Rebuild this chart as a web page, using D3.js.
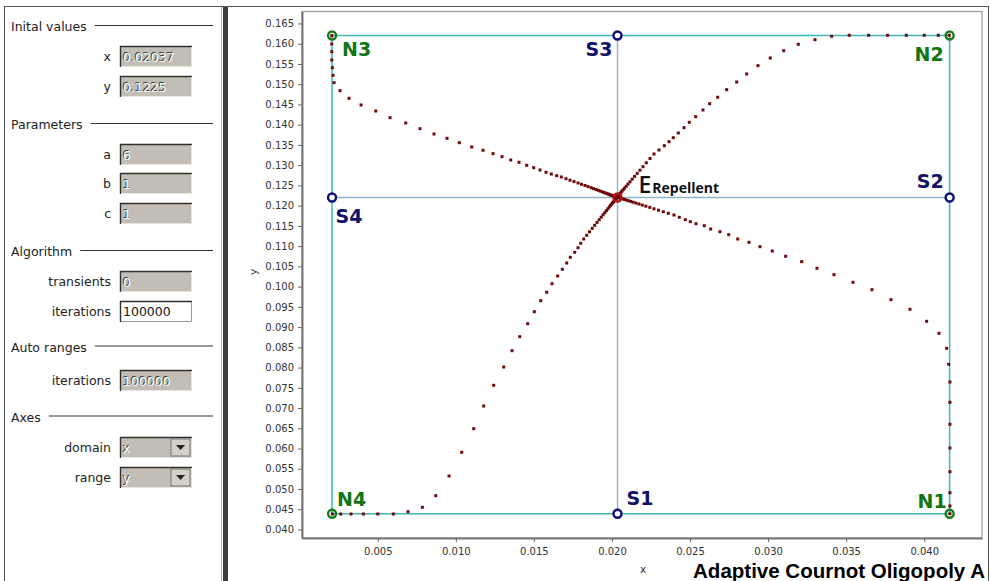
<!DOCTYPE html>
<html>
<head>
<meta charset="utf-8">
<script src="https://cdn.jsdelivr.net/npm/d3@7"></script>
<style>
  body { margin: 0; background: #fff; }
  svg { display: block; font-family: "DejaVu Sans", Verdana, sans-serif; }
</style>
</head>
<body>
<svg id="chart" width="990" height="581"></svg>
<script>
// fixed points of the map (nodes N, saddles S, repelling equilibrium E)
const fixedNames = ["N1", "N2", "N3", "N4", "S1", "S2", "S3", "S4", "E"];
const fixedX = [0.041628, 0.041628, 0.002075, 0.002075, 0.020356, 0.041628, 0.020356, 0.002075, 0.020356];
const fixedY = [0.04390, 0.16204, 0.16204, 0.04390, 0.04390, 0.12202, 0.16204, 0.12202, 0.12202];

// orbits leaving E towards each node
const orbitN1X = [0.041647, 0.041647, 0.041647, 0.041647, 0.041647, 0.041647, 0.041647, 0.041647, 0.041564, 0.041436, 0.040943, 0.040155, 0.039086, 0.037869, 0.036652, 0.035436, 0.034219, 0.033131, 0.032151, 0.031126, 0.030268, 0.029481, 0.028776, 0.028053, 0.027477, 0.026919, 0.026324, 0.025914, 0.025383, 0.025018, 0.024698, 0.024313, 0.023974, 0.023609, 0.023289, 0.022981, 0.022693, 0.022424, 0.022174, 0.021944, 0.021733, 0.021541, 0.021361, 0.021201, 0.021054, 0.020919, 0.020804, 0.020702, 0.020612, 0.020535, 0.020471, 0.020420];
const orbitN1Y = [0.04390, 0.04581, 0.04909, 0.05428, 0.06013, 0.06599, 0.07142, 0.07644, 0.08081, 0.08476, 0.08847, 0.09143, 0.09440, 0.09677, 0.09924, 0.10107, 0.10295, 0.10453, 0.10616, 0.10749, 0.10880, 0.10986, 0.11095, 0.11176, 0.11283, 0.11357, 0.11423, 0.11505, 0.11554, 0.11604, 0.11653, 0.11712, 0.11769, 0.11811, 0.11851, 0.11888, 0.11922, 0.11957, 0.11987, 0.12014, 0.12041, 0.12063, 0.12085, 0.12105, 0.12122, 0.12137, 0.12152, 0.12165, 0.12177, 0.12184, 0.12192, 0.12199];

const orbitN2X = [0.041602, 0.040898, 0.040001, 0.038849, 0.037658, 0.036441, 0.035199, 0.034072, 0.033003, 0.031933, 0.030998, 0.030140, 0.029353, 0.028629, 0.027989, 0.027348, 0.026772, 0.026260, 0.025831, 0.025364, 0.024954, 0.024614, 0.024249, 0.023929, 0.023654, 0.023353, 0.023013, 0.022693, 0.022437, 0.022200, 0.021989, 0.021797, 0.021617, 0.021451, 0.021297, 0.021156, 0.021028, 0.020913, 0.020811, 0.020721, 0.020644, 0.020574, 0.020516, 0.020465, 0.020427, 0.020394];
const orbitN2Y = [0.16209, 0.16209, 0.16209, 0.16209, 0.16209, 0.16209, 0.16209, 0.16184, 0.16100, 0.15986, 0.15828, 0.15648, 0.15458, 0.15253, 0.15055, 0.14865, 0.14677, 0.14519, 0.14363, 0.14198, 0.14059, 0.13926, 0.13795, 0.13679, 0.13580, 0.13481, 0.13375, 0.13276, 0.13165, 0.13059, 0.12962, 0.12876, 0.12797, 0.12723, 0.12654, 0.12589, 0.12533, 0.12480, 0.12434, 0.12394, 0.12360, 0.12328, 0.12300, 0.12278, 0.12261, 0.12246];

const orbitN3X = [0.002055, 0.002055, 0.002055, 0.002055, 0.002094, 0.002139, 0.002203, 0.002587, 0.003163, 0.003932, 0.004873, 0.005789, 0.006794, 0.007710, 0.008606, 0.009438, 0.010226, 0.011020, 0.011744, 0.012384, 0.012960, 0.013517, 0.014049, 0.014542, 0.014990, 0.015393, 0.015778, 0.016117, 0.016463, 0.016757, 0.017058, 0.017314, 0.017571, 0.017827, 0.018051, 0.018275, 0.018467, 0.018659, 0.018819, 0.018979, 0.019120, 0.019255, 0.019376, 0.019492, 0.019594, 0.019684, 0.019773, 0.019850, 0.019921, 0.019985, 0.020042, 0.020094, 0.020138, 0.020177, 0.020215, 0.020247, 0.020279];
const orbitN3Y = [0.16199, 0.15994, 0.15803, 0.15598, 0.15408, 0.15220, 0.15038, 0.14840, 0.14652, 0.14487, 0.14338, 0.14173, 0.14042, 0.13901, 0.13770, 0.13664, 0.13555, 0.13449, 0.13368, 0.13284, 0.13210, 0.13128, 0.13071, 0.12997, 0.12938, 0.12881, 0.12824, 0.12782, 0.12740, 0.12708, 0.12666, 0.12629, 0.12594, 0.12560, 0.12528, 0.12498, 0.12471, 0.12444, 0.12421, 0.12399, 0.12379, 0.12360, 0.12342, 0.12325, 0.12310, 0.12298, 0.12286, 0.12273, 0.12263, 0.12253, 0.12246, 0.12239, 0.12231, 0.12226, 0.12221, 0.12216, 0.12212];

const orbitN4X = [0.002094, 0.002632, 0.003291, 0.004079, 0.005001, 0.006000, 0.006941, 0.007857, 0.008715, 0.009567, 0.010380, 0.011148, 0.011788, 0.012429, 0.013069, 0.013601, 0.014094, 0.014606, 0.015029, 0.015438, 0.015823, 0.016162, 0.016527, 0.016822, 0.017103, 0.017334, 0.017615, 0.017827, 0.018000, 0.018192, 0.018384, 0.018563, 0.018736, 0.018896, 0.019043, 0.019184, 0.019312, 0.019434, 0.019543, 0.019645, 0.019741, 0.019825, 0.019902, 0.019972, 0.020036, 0.020094, 0.020145, 0.020190, 0.020228, 0.020260];
const orbitN4Y = [0.04383, 0.04383, 0.04383, 0.04383, 0.04383, 0.04383, 0.04440, 0.04548, 0.04835, 0.05322, 0.05907, 0.06490, 0.07051, 0.07562, 0.08014, 0.08417, 0.08763, 0.09084, 0.09380, 0.09652, 0.09860, 0.10072, 0.10262, 0.10428, 0.10584, 0.10724, 0.10848, 0.10961, 0.11070, 0.11176, 0.11268, 0.11354, 0.11438, 0.11515, 0.11586, 0.11653, 0.11715, 0.11774, 0.11826, 0.11876, 0.11922, 0.11964, 0.12002, 0.12036, 0.12066, 0.12093, 0.12118, 0.12140, 0.12157, 0.12174];

// axes
const xDomain = [0.00015, 0.0437];
const yDomain = [0.0379, 0.16796];
const xTicks = [0.005, 0.010, 0.015, 0.020, 0.025, 0.030, 0.035, 0.040];
const yTicks = [0.040, 0.045, 0.050, 0.055, 0.060, 0.065, 0.070, 0.075, 0.080, 0.085, 0.090, 0.095, 0.100,
  0.105, 0.110, 0.115, 0.120, 0.125, 0.130, 0.135, 0.140, 0.145, 0.150, 0.155, 0.160, 0.165];

// control panel texts
const sectionTitles = ["Inital values", "Parameters", "Algorithm", "Auto ranges", "Axes"];
const fieldLabels = ["x", "y", "a", "b", "c", "transients", "iterations", "iterations", "domain", "range"];
const fieldValues = ["0.02037", "0.1225", "6", "1", "1", "0", "100000", "100000", "x", "y"];
const fieldKinds = ["off", "off", "off", "off", "off", "off", "edit", "off", "combo", "combo"];

const title = "Adaptive Cournot Oligopoly A";

// ---------------------------------------------------------------
const svg = d3.select("#chart");
const plot = { left: 302, right: 982, top: 11.5, bottom: 538 };

const xScale = d3.scaleLinear().domain(xDomain).range([plot.left, plot.right]);
const yScale = d3.scaleLinear().domain(yDomain).range([plot.bottom, plot.top]);

// window frame + splitter
svg.append("rect").attr("x", 4.5).attr("y", 6.5).attr("width", 984).attr("height", 590)
  .attr("fill", "none").attr("stroke", "#555");
svg.append("line").attr("x1", 221.5).attr("x2", 221.5).attr("y1", 7).attr("y2", 581).attr("stroke", "#aaa");
svg.append("rect").attr("x", 223).attr("y", 7).attr("width", 5).attr("height", 574).attr("fill", "#3c3c3c");

// ---- control panel ----
const panel = svg.append("g");
const sectionBase = [31, 129, 256, 351.5, 421.5];
sectionTitles.forEach(function (t, i) {
  const txt = panel.append("text").attr("x", 11).attr("y", sectionBase[i])
    .attr("font-size", 12.5).attr("fill", "#222").text(t);
  const w = txt.node().getComputedTextLength();
  panel.append("line").attr("x1", 11 + w + 8).attr("x2", 213)
    .attr("y1", sectionBase[i] - 5.5).attr("y2", sectionBase[i] - 5.5)
    .attr("stroke", "#333").attr("stroke-width", 1);
});

const fieldTop = [46, 76, 144, 173, 203, 271, 301, 370, 437, 467];
fieldLabels.forEach(function (lab, i) {
  const y0 = fieldTop[i];
  panel.append("text").attr("x", 111).attr("y", y0 + 15).attr("text-anchor", "end")
    .attr("font-size", 12.5).attr("fill", "#222").text(lab);
  const kind = fieldKinds[i];
  panel.append("rect").attr("x", 120).attr("y", y0).attr("width", 72).attr("height", 21)
    .attr("fill", kind === "edit" ? "#fff" : "#c2beb6");
  // sunken border
  panel.append("path").attr("d", `M120.5,${y0 + 21} V${y0 + 0.5} H192`)
    .attr("fill", "none").attr("stroke", "#303030").attr("stroke-width", 1.4);
  panel.append("path").attr("d", `M121,${y0 + 20.5} H191.5 V${y0 + 1}`)
    .attr("fill", "none").attr("stroke", kind === "edit" ? "#999" : "#e6e4df");
  if (kind === "edit") {
    panel.append("text").attr("x", 123).attr("y", y0 + 15).attr("font-size", 12.5)
      .attr("fill", "#111").text(fieldValues[i]);
  } else {
    // embossed (disabled) look
    panel.append("text").attr("x", 122).attr("y", y0 + 15).attr("font-size", 12.5)
      .attr("fill", "#3a3a3a").text(fieldValues[i]);
    panel.append("text").attr("x", 123).attr("y", y0 + 15.5).attr("font-size", 12.5)
      .attr("fill", "#fdfdfb").text(fieldValues[i]);
  }
  if (kind === "combo") {
    panel.append("rect").attr("x", 171).attr("y", y0 + 2).attr("width", 19).attr("height", 17)
      .attr("fill", "#d4d0c8").attr("stroke", "#777").attr("stroke-width", 1);
    panel.append("path").attr("d", `M176,${y0 + 8} h9 l-4.5,5 z`).attr("fill", "#222");
  }
});

// ---- plot ----
svg.append("rect").attr("x", plot.left).attr("y", plot.top)
  .attr("width", plot.right - plot.left).attr("height", plot.bottom - plot.top)
  .attr("fill", "#fff").attr("stroke", "#9a9a9a").attr("stroke-width", 1.2);

const pt = {};
fixedNames.forEach(function (n, i) { pt[n] = [fixedX[i], fixedY[i]]; });

const boxEdges = [["N3", "N2"], ["N2", "N1"], ["N1", "N4"], ["N4", "N3"]];
const crossEdges = [["S4", "S2"], ["S3", "S1"]];

svg.append("g").selectAll("line").data(crossEdges).enter().append("line")
  .attr("x1", d => xScale(pt[d[0]][0])).attr("y1", d => yScale(pt[d[0]][1]))
  .attr("x2", d => xScale(pt[d[1]][0])).attr("y2", d => yScale(pt[d[1]][1]))
  .attr("stroke", "#93b3c9").attr("stroke-width", 1.4);
svg.append("g").selectAll("line").data(boxEdges).enter().append("line")
  .attr("x1", d => xScale(pt[d[0]][0])).attr("y1", d => yScale(pt[d[0]][1]))
  .attr("x2", d => xScale(pt[d[1]][0])).attr("y2", d => yScale(pt[d[1]][1]))
  .attr("stroke", "#3db6b6").attr("stroke-width", 1.5);

const orbits = [[orbitN1X, orbitN1Y], [orbitN2X, orbitN2Y], [orbitN3X, orbitN3Y], [orbitN4X, orbitN4Y]];
const dots = [];
orbits.forEach(function (o) {
  d3.zip(o[0], o[1]).forEach(function (p) { dots.push(p); });
});

svg.append("g").selectAll("rect").data(dots).enter().append("rect")
  .attr("x", d => xScale(d[0]) - 1.5).attr("y", d => yScale(d[1]) - 1.5)
  .attr("width", 3).attr("height", 3).attr("fill", "#6e0a0a");

// fixed point markers
const markerColor = { N: "#1b7a1b", S: "#0c0c78", E: "#b01818" };
svg.append("g").selectAll("circle").data(fixedNames).enter().append("circle")
  .attr("cx", d => xScale(pt[d][0])).attr("cy", d => yScale(pt[d][1]))
  .attr("r", 4).attr("fill", d => d[0] === "S" ? "#fff" : "none")
  .attr("stroke", d => markerColor[d[0]]).attr("stroke-width", 2.4);

// labels
const labelOffset = {
  N1: [-3, -6, "end"], N2: [-6, 26, "end"], N3: [10, 21, "start"], N4: [5, -7.5, "start"],
  S1: [9, -9, "start"], S2: [-6, -9, "end"], S3: [-5, 21, "end"], S4: [3.5, 26, "start"]
};
svg.append("g").selectAll("text").data(fixedNames.filter(n => n !== "E")).enter().append("text")
  .attr("x", d => xScale(pt[d][0]) + labelOffset[d][0])
  .attr("y", d => yScale(pt[d][1]) + labelOffset[d][1])
  .attr("text-anchor", d => labelOffset[d][2])
  .attr("font-size", 19).attr("font-weight", "bold")
  .attr("fill", d => d[0] === "N" ? "#117511" : "#12126a")
  .text(d => d);

const eLab = svg.append("text")
  .attr("x", xScale(pt.E[0]) + 21).attr("y", yScale(pt.E[1]) - 4.5)
  .attr("font-family", "'Open Sans', sans-serif").attr("fill", "#111");
eLab.append("tspan").attr("font-size", 23).attr("font-weight", 600).text("E");
eLab.append("tspan").attr("font-size", 14).attr("font-weight", "bold").attr("dx", 1).text("Repellent");

// axes
const xAxis = svg.append("g").attr("transform", `translate(0,${plot.bottom})`)
  .call(d3.axisBottom(xScale).tickValues(xTicks).tickFormat(d3.format(".3f")).tickSize(4).tickSizeOuter(0).tickPadding(6));
const yAxis = svg.append("g").attr("transform", `translate(${plot.left},0)`)
  .call(d3.axisLeft(yScale).tickValues(yTicks).tickFormat(d3.format(".3f")).tickSize(4).tickSizeOuter(0).tickPadding(4));

[xAxis, yAxis].forEach(function (a) {
  a.select(".domain").attr("stroke", "#777").attr("stroke-width", 2);
  a.selectAll(".tick line").attr("stroke", "#666");
  a.selectAll(".tick text").attr("font-family", "'DejaVu Sans', sans-serif")
    .attr("font-size", 10).attr("fill", "#333");
});

svg.append("text").attr("x", 643).attr("y", 573).attr("text-anchor", "middle")
  .attr("font-size", 10.5).attr("fill", "#333").text("x");
svg.append("text").attr("transform", "translate(257,272) rotate(-90)").attr("text-anchor", "middle")
  .attr("font-size", 10.5).attr("fill", "#333").text("y");

svg.append("text").attr("x", 985).attr("y", 578).attr("text-anchor", "end")
  .attr("font-family", "'Liberation Sans', Arial, sans-serif").attr("font-weight", "bold")
  .attr("font-size", 20.5).attr("fill", "#000").text(title);
</script>
</body>
</html>
